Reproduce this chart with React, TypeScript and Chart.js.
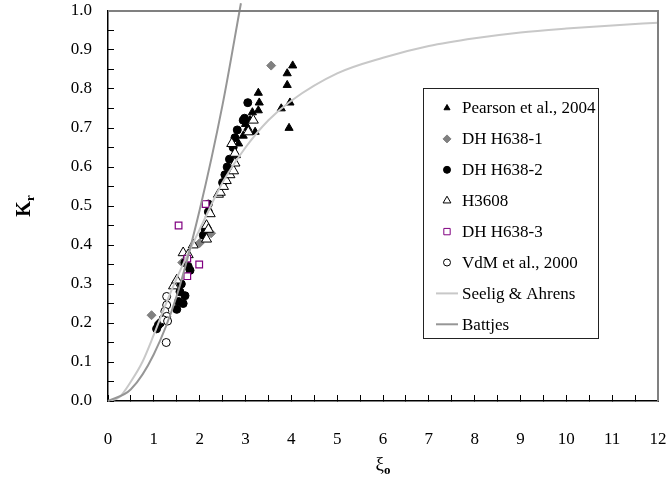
import React, { useEffect, useRef } from 'react';
import { Chart, registerables } from 'chart.js';
import { drawPoint } from 'chart.js/helpers';

Chart.register(...registerables);

// ---- data ----
const pearsonXi = [4.03, 3.91, 3.91, 3.28, 3.3, 3.97, 3.78, 3.28, 3.95, 3.21, 3.1, 3.0, 2.95, 2.85, 2.8, 3.05, 3.15];
const pearsonKr = [0.86, 0.84, 0.81, 0.79, 0.765, 0.765, 0.75, 0.745, 0.7, 0.69, 0.72, 0.71, 0.68, 0.66, 0.63, 0.7, 0.74];

const dh1Xi = [0.95, 1.62, 2.0, 2.25, 3.56];
const dh1Kr = [0.22, 0.355, 0.405, 0.43, 0.86];

const dh2Xi = [1.06, 1.1, 1.14, 1.2, 1.5, 1.54, 1.57, 1.6, 1.64, 1.68, 1.68, 1.75, 1.79, 2.08, 2.12, 2.19, 2.19, 2.5, 2.55, 2.6, 2.65, 2.73, 2.77, 2.82, 2.95, 2.98, 3.05];
const dh2Kr = [0.185, 0.195, 0.2, 0.21, 0.235, 0.255, 0.28, 0.3, 0.25, 0.27, 0.355, 0.345, 0.335, 0.425, 0.44, 0.505, 0.485, 0.56, 0.58, 0.6, 0.62, 0.65, 0.675, 0.695, 0.72, 0.725, 0.765];

const h3608Xi = [1.43, 1.5, 1.64, 1.75, 1.86, 2.15, 2.19, 2.15, 2.23, 2.41, 2.45, 2.52, 2.58, 2.66, 2.74, 2.77, 2.77, 2.7, 3.06, 3.17];
const h3608Kr = [0.295, 0.31, 0.38, 0.375, 0.4, 0.45, 0.44, 0.415, 0.48, 0.53, 0.535, 0.55, 0.565, 0.58, 0.59, 0.61, 0.635, 0.66, 0.69, 0.72];

const dh3Xi = [1.54, 1.73, 1.73, 1.99, 2.13];
const dh3Kr = [0.45, 0.365, 0.32, 0.35, 0.505];

const vdmXi = [1.28, 1.28, 1.24, 1.28, 1.21, 1.3, 1.27];
const vdmKr = [0.268, 0.246, 0.23, 0.217, 0.208, 0.205, 0.15];

const seeligXi = [0, 0.25, 0.5, 0.75, 1, 1.25, 1.5, 2, 2.5, 3, 3.5, 4, 5, 6, 7, 8, 9, 10, 11, 12];
const seeligKr = [0, 0.01, 0.05, 0.1, 0.17, 0.245, 0.315, 0.44, 0.56, 0.65, 0.72, 0.77, 0.84, 0.88, 0.91, 0.93, 0.945, 0.955, 0.963, 0.97];

const battjesXi = [0, 0.5, 1, 1.5, 2, 2.5, 2.9];
const battjesKr = [0, 0.03, 0.12, 0.27, 0.49, 0.76, 1.02];

const seriesLabels = ['Pearson et al., 2004', 'DH H638-1', 'DH H638-2', 'H3608', 'DH H638-3', 'VdM et al., 2000', 'Seelig & Ahrens', 'Battjes'];

const FONT = '"Liberation Serif", "Times New Roman", serif';

const pts = (xs: number[], ys: number[]) => xs.map((x, i) => ({ x, y: ys[i] }));

type LegendItem = {
  kind: 'point' | 'line';
  style?: string;
  radius?: number;
  bg?: string;
  border?: string;
  bw?: number;
  color?: string;
};

const legendItems: LegendItem[] = [
  { kind: 'point', style: 'triangle', radius: 3.5, bg: '#000', border: '#000', bw: 1 },
  { kind: 'point', style: 'rectRot', radius: 4, bg: '#808080', border: '#808080', bw: 1 },
  { kind: 'point', style: 'circle', radius: 3.5, bg: '#000', border: '#000', bw: 1 },
  { kind: 'point', style: 'triangle', radius: 4.5, bg: '#fff', border: '#000', bw: 1 },
  { kind: 'point', style: 'rect', radius: 4.5, bg: '#fff', border: '#800080', bw: 1 },
  { kind: 'point', style: 'circle', radius: 3.5, bg: '#fff', border: '#000', bw: 1 },
  { kind: 'line', color: '#c8c8c8' },
  { kind: 'line', color: '#969696' },
];

const framePlugin = {
  id: 'topRightFrame',
  afterDraw(chart: any) {
    const ctx: CanvasRenderingContext2D = chart.ctx;
    const ca = chart.chartArea;
    ctx.save();
    ctx.strokeStyle = '#808080';
    ctx.lineWidth = 2;
    ctx.beginPath();
    ctx.moveTo(ca.left, ca.top);
    ctx.lineTo(ca.right, ca.top);
    ctx.lineTo(ca.right, ca.bottom);
    ctx.stroke();
    ctx.restore();
  },
};

const legendPlugin = {
  id: 'boxLegend',
  afterDraw(chart: any) {
    const ctx: CanvasRenderingContext2D = chart.ctx;
    ctx.save();
    ctx.strokeStyle = '#222';
    ctx.lineWidth = 1;
    ctx.fillStyle = '#fff';
    ctx.fillRect(423.5, 88.5, 175, 250);
    ctx.strokeRect(423.5, 88.5, 175, 250);
    ctx.font = `17px ${FONT}`;
    ctx.textBaseline = 'middle';
    ctx.textAlign = 'left';
    legendItems.forEach((it, i) => {
      const y = 108 + i * 30.9;
      if (it.kind === 'point') {
        ctx.fillStyle = it.bg!;
        ctx.strokeStyle = it.border!;
        ctx.lineWidth = it.bw!;
        drawPoint(ctx, { pointStyle: it.style as any, radius: it.radius!, borderWidth: it.bw!, rotation: 0 } as any, 447, y);
      } else {
        ctx.strokeStyle = it.color!;
        ctx.lineWidth = 2;
        ctx.beginPath();
        ctx.moveTo(436, y);
        ctx.lineTo(458, y);
        ctx.stroke();
      }
      ctx.fillStyle = '#000';
      ctx.fillText(seriesLabels[i], 462, y + 1);
    });
    ctx.restore();
  },
};

const titlePlugin = {
  id: 'axisTitles',
  afterDraw(chart: any) {
    const ctx: CanvasRenderingContext2D = chart.ctx;
    const ca = chart.chartArea;
    ctx.save();
    ctx.fillStyle = '#000';
    ctx.textBaseline = 'alphabetic';
    ctx.textAlign = 'left';
    const cx = (ca.left + ca.right) / 2;
    ctx.font = `19px ${FONT}`;
    const w1 = ctx.measureText('ξ').width;
    ctx.font = `bold 13px ${FONT}`;
    const w2 = ctx.measureText('o').width;
    const x0 = cx - (w1 + w2) / 2;
    ctx.font = `19px ${FONT}`;
    ctx.fillText('ξ', x0, 470);
    ctx.font = `bold 13px ${FONT}`;
    ctx.fillText('o', x0 + w1, 474);
    ctx.translate(30, (ca.top + ca.bottom) / 2);
    ctx.rotate(-Math.PI / 2);
    ctx.font = `bold 20px ${FONT}`;
    const k1 = ctx.measureText('K').width;
    ctx.font = `bold 13px ${FONT}`;
    const k2 = ctx.measureText('r').width;
    const y0 = -(k1 + k2) / 2;
    ctx.font = `bold 20px ${FONT}`;
    ctx.fillText('K', y0, 0);
    ctx.font = `bold 13px ${FONT}`;
    ctx.fillText('r', y0 + k1, 4);
    ctx.restore();
  },
};

export default function App() {
  const ref = useRef<HTMLCanvasElement>(null);

  useEffect(() => {
    document.body.style.margin = '0';
    const canvas = ref.current;
    if (!canvas) return;
    const tickFont = { family: FONT, size: 17 };
    const chart = new Chart(canvas, {
      type: 'scatter',
      data: {
        datasets: [
          {
            label: seriesLabels[0], data: pts(pearsonXi, pearsonKr), order: 8,
            pointStyle: 'triangle', pointRadius: 4.7, backgroundColor: '#000', borderColor: '#000', borderWidth: 1,
          },
          {
            label: seriesLabels[1], data: pts(dh1Xi, dh1Kr), order: 7,
            pointStyle: 'rectRot', pointRadius: 4.5, backgroundColor: '#808080', borderColor: '#808080', borderWidth: 1,
          },
          {
            label: seriesLabels[2], data: pts(dh2Xi, dh2Kr), order: 6,
            pointStyle: 'circle', pointRadius: 4, backgroundColor: '#000', borderColor: '#000', borderWidth: 1,
          },
          {
            label: seriesLabels[3], data: pts(h3608Xi, h3608Kr), order: 5,
            pointStyle: 'triangle', pointRadius: 5.8, backgroundColor: '#fff', borderColor: '#000', borderWidth: 1,
          },
          {
            label: seriesLabels[4], data: pts(dh3Xi, dh3Kr), order: 4,
            pointStyle: 'rect', pointRadius: 4.7, backgroundColor: '#fff', borderColor: '#800080', borderWidth: 1.2,
          },
          {
            label: seriesLabels[5], data: pts(vdmXi, vdmKr), order: 3,
            pointStyle: 'circle', pointRadius: 4, backgroundColor: '#fff', borderColor: '#000', borderWidth: 1,
          },
          {
            type: 'line', label: seriesLabels[6], data: pts(seeligXi, seeligKr), order: 2,
            showLine: true, pointRadius: 0, borderColor: '#c8c8c8', borderWidth: 2, fill: false,
            cubicInterpolationMode: 'monotone',
          } as any,
          {
            type: 'line', label: seriesLabels[7], data: pts(battjesXi, battjesKr), order: 1,
            showLine: true, pointRadius: 0, borderColor: '#969696', borderWidth: 2, fill: false,
            cubicInterpolationMode: 'monotone', clip: false,
          } as any,
        ],
      },
      options: {
        responsive: false,
        animation: false,
        events: [],
        layout: { padding: { top: 11, right: 12, left: 0, bottom: 0 } },
        plugins: { legend: { display: false }, tooltip: { enabled: false } },
        scales: {
          x: {
            type: 'linear', position: 'bottom', min: 0, max: 12,
            ticks: {
              stepSize: 0.5, autoSkip: false, maxRotation: 0, color: '#000', font: tickFont, padding: 34,
              callback: (v: any) => (Number.isInteger(v) ? String(v) : ''),
            },
            grid: { drawOnChartArea: false, tickLength: -6, tickColor: '#000', tickWidth: 1 },
            border: { color: '#000', width: 1.5 },
            afterFit: (s: any) => { s.height = 82; s.paddingLeft = 0; s.paddingRight = 0; },
          },
          y: {
            type: 'linear', position: 'left', min: 0, max: 1,
            ticks: {
              stepSize: 0.05, autoSkip: false, color: '#000', font: tickFont, padding: 22,
              callback: (v: any) => {
                const t = Math.round(v * 100);
                return t % 10 === 0 ? (t / 100).toFixed(1) : '';
              },
            },
            grid: { drawOnChartArea: false, tickLength: -6, tickColor: '#000', tickWidth: 1 },
            border: { color: '#000', width: 1.5 },
            afterFit: (s: any) => { s.width = 108; s.paddingTop = 0; s.paddingBottom = 0; },
          },
        },
      } as any,
      plugins: [framePlugin, legendPlugin, titlePlugin],
    });
    return () => chart.destroy();
  }, []);

  return (
    <div style={{ width: 670, height: 483 }}>
      <canvas ref={ref} width={670} height={483} style={{ display: 'block' }} />
    </div>
  );
}
